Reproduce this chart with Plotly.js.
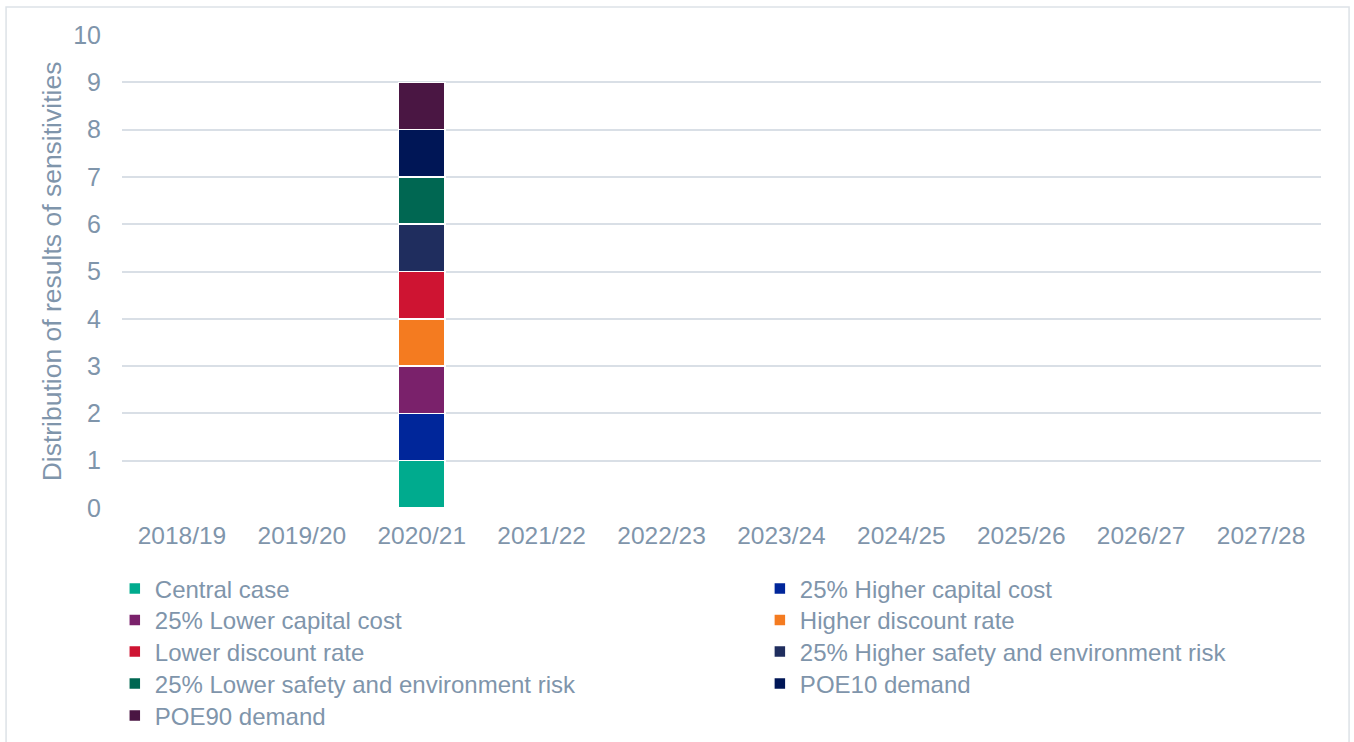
<!DOCTYPE html>
<html>
<head>
<meta charset="utf-8">
<script src="https://cdn.plot.ly/plotly-3.0.1.min.js"></script>
<style>html,body{margin:0;padding:0;background:#fff;}#chart{width:1354px;height:742px;}</style>
</head>
<body>
<div id="chart"></div>
<script>
const categories = ["2018/19","2019/20","2020/21","2021/22","2022/23","2023/24","2024/25","2025/26","2026/27","2027/28"];
const seriesNames = ["Central case","25% Higher capital cost","25% Lower capital cost","Higher discount rate","Lower discount rate","25% Higher safety and environment risk","25% Lower safety and environment risk","POE10 demand","POE90 demand"];
const centralCase      = [0,0,1,0,0,0,0,0,0,0];
const higherCapital    = [0,0,1,0,0,0,0,0,0,0];
const lowerCapital     = [0,0,1,0,0,0,0,0,0,0];
const higherDiscount   = [0,0,1,0,0,0,0,0,0,0];
const lowerDiscount    = [0,0,1,0,0,0,0,0,0,0];
const higherSafety     = [0,0,1,0,0,0,0,0,0,0];
const lowerSafety      = [0,0,1,0,0,0,0,0,0,0];
const poe10            = [0,0,1,0,0,0,0,0,0,0];
const poe90            = [0,0,1,0,0,0,0,0,0,0];
const seriesValues = [centralCase,higherCapital,lowerCapital,higherDiscount,lowerDiscount,higherSafety,lowerSafety,poe10,poe90];
const colors = ["#00AB8E","#00269A","#7A216B","#F47B20","#CE1432","#1F2D5E","#006752","#001656","#4A1643"];

const textColor = "#7F95AB";
const fam = "Liberation Sans, Arial, sans-serif";
const legendFont = {family: fam, size: 24, color: textColor};
const xTickFont = {family: fam, size: 24.5, color: textColor};
const yTickFont = {family: fam, size: 25, color: textColor};
const yTitleFont = {family: fam, size: 26.5, color: textColor};

// plot area geometry (pixels) used to place the legend entries in a 2-column grid
const plotTop = 35, plotBottom = 508, plotH = plotBottom - plotTop;
const legendRowY = [589, 620.5, 652, 684, 716];
const legendColX = [-0.006, 0.532];

const traces = seriesNames.map((name, i) => ({
  type: "bar",
  name: name,
  x: categories,
  y: seriesValues[i].map(v => v === 0 ? null : v),
  marker: {color: colors[i], line: {color: "#ffffff", width: 1.5}},
  legend: i === 0 ? "legend" : "legend" + (i + 1),
  hoverinfo: "x+y+name"
}));

const layout = {
  width: 1354,
  height: 742,
  paper_bgcolor: "#ffffff",
  plot_bgcolor: "#ffffff",
  font: legendFont,
  barmode: "stack",
  bargap: 0.615,
  showlegend: true,
  margin: {l: 122, r: 33, t: plotTop, b: 742 - plotBottom, autoexpand: false},
  xaxis: {
    type: "category",
    showgrid: false,
    zeroline: false,
    showline: false,
    ticks: "",
    tickfont: xTickFont,
    ticklabelstandoff: 10,
    automargin: false,
    fixedrange: true
  },
  yaxis: {
    range: [0, 10],
    dtick: 1,
    tick0: 0,
    showgrid: true,
    gridcolor: "#D9DFE6",
    gridwidth: 1.5,
    zeroline: false,
    showline: false,
    ticks: "",
    tickfont: yTickFont,
    ticklabelstandoff: 20,
    automargin: false,
    title: {text: "Distribution of results of sensitivities", font: yTitleFont, standoff: 3},
    fixedrange: true
  },
  shapes: [{
    type: "rect", xref: "paper", yref: "paper",
    x0: -0.0967, x1: 1.0234, y0: -0.52, y1: 1.0592,
    line: {color: "#DDE2E7", width: 1.5},
    fillcolor: "rgba(0,0,0,0)",
    layer: "below"
  }]
};

seriesNames.forEach((name, i) => {
  const key = i === 0 ? "legend" : "legend" + (i + 1);
  const col = i % 2, row = Math.floor(i / 2);
  layout[key] = {
    orientation: "v",
    traceorder: "normal",
    font: legendFont,
    bgcolor: "rgba(0,0,0,0)",
    xanchor: "left",
    yanchor: "middle",
    x: legendColX[col],
    y: (plotBottom - legendRowY[row]) / plotH,
    itemwidth: 30
  };
});

Plotly.newPlot("chart", traces, layout, {displayModeBar: false, responsive: false});
</script>
</body>
</html>
